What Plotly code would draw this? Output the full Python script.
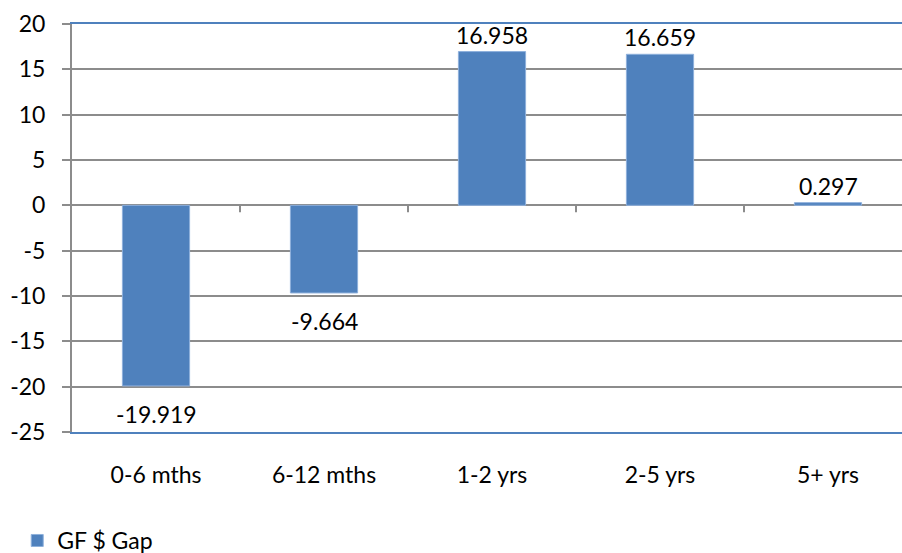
import plotly.graph_objects as go

# Repricing gap by maturity bucket
categories = ["0-6 mths", "6-12 mths", "1-2 yrs", "2-5 yrs", "5+ yrs"]
gap_values = [-19.919, -9.664, 16.958, 16.659, 0.297]
y_ticks = [20, 15, 10, 5, 0, -5, -10, -15, -20, -25]
series_name = "GF $ Gap"

BAR_BLUE = "#4F81BD"
GRID_GREY = "#8C8C8C"
FONT = "Lato, Open Sans, sans-serif"
FSIZE = 23

x_pos = list(range(len(categories)))

fig = go.Figure()
fig.add_trace(go.Bar(
    x=x_pos,
    y=gap_values,
    name=series_name,
    marker=dict(color=BAR_BLUE, line=dict(color="#8EB0DC", width=1)),
    showlegend=True,
))

# value labels just beyond the end of each bar
annotations = []
for xi, v in zip(x_pos, gap_values):
    annotations.append(dict(
        x=xi, y=v, xref="x", yref="y",
        text=f"{v:.3f}", showarrow=False,
        yanchor="middle", yshift=17 if v >= 0 else -28,
        font=dict(family=FONT, size=FSIZE, color="#000000"),
    ))

# small tick marks on the zero line between categories
shapes = []
for i in range(len(categories) - 1):
    shapes.append(dict(
        type="line", xref="x", yref="y",
        ysizemode="pixel", yanchor=0,
        x0=i + 0.5, x1=i + 0.5, y0=0, y1=-7,
        line=dict(color=GRID_GREY, width=2),
    ))

fig.update_layout(
    width=902, height=553,
    margin=dict(l=72, r=0, t=24, b=121, autoexpand=False),
    paper_bgcolor="white", plot_bgcolor="white",
    font=dict(family=FONT, size=FSIZE, color="#000000"),
    bargap=0.6,
    shapes=shapes,
    annotations=annotations,
    showlegend=True,
    legend=dict(
        orientation="h", x=-0.066, y=-0.266, xanchor="left", yanchor="middle",
        font=dict(family=FONT, size=FSIZE, color="#000000"),
        bgcolor="rgba(0,0,0,0)",
    ),
    xaxis=dict(
        tickmode="array", tickvals=x_pos, ticktext=categories,
        range=[-0.5, -0.5 + 830 / 168],
        showgrid=False, zeroline=False,
        showline=True, linecolor=BAR_BLUE, linewidth=2, mirror=True,
        ticks="", ticklabelstandoff=21, automargin=False,
        tickfont=dict(family=FONT, size=FSIZE, color="#000000"),
    ),
    yaxis=dict(
        range=[-25, 20], tickmode="array", tickvals=y_ticks,
        ticktext=[str(v) for v in y_ticks],
        showgrid=True, gridcolor=GRID_GREY, gridwidth=2,
        zeroline=True, zerolinecolor=GRID_GREY, zerolinewidth=2,
        showline=True, linecolor=GRID_GREY, linewidth=2,
        ticks="outside", ticklen=8, tickcolor=GRID_GREY, tickwidth=2,
        ticklabelstandoff=12, automargin=False,
        tickfont=dict(family=FONT, size=FSIZE, color="#000000"),
    ),
)

fig.write_html("out.html")
